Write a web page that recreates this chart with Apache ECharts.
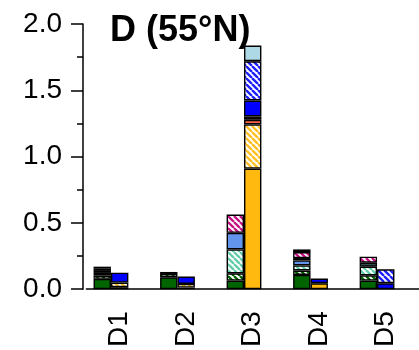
<!DOCTYPE html>
<html>
<head>
<meta charset="utf-8">
<script src="https://cdn.jsdelivr.net/npm/echarts@6/dist/echarts.min.js"></script>
<style>
  html, body { margin: 0; padding: 0; background: #fff; }
  #main { width: 419px; height: 350px; }
</style>
</head>
<body>
<div id="main"></div>
<script>
// categories
var sites = ['D1', 'D2', 'D3', 'D4', 'D5'];

// left stack, bottom to top
var lDarkGreen   = [0.078, 0.090, 0.065, 0.108, 0.065];
var lGreenHatch  = [0.025, 0.025, 0.055, 0.033, 0.040];
var lAquaHatch   = [0.020, 0,     0.180, 0.038, 0.065];
var lCornflower  = [0,     0,     0.125, 0.038, 0];
var lSlate       = [0.015, 0.015, 0,     0.018, 0.030];
var lPinkHatch   = [0.020, 0,     0.138, 0.045, 0.045];
var lRoseHatch   = [0.012, 0,     0,     0.020, 0];

// right stack, bottom to top
var rOrange      = [0.015, 0.012, 0.910, 0.045, 0];
var rOrangeHatch = [0.035, 0.028, 0.333, 0,     0];
var rTomato      = [0,     0,     0.035, 0,     0];
var rDark        = [0,     0,     0.025, 0,     0];
var rBlue        = [0.075, 0.055, 0.120, 0.035, 0.045];
var rBlueHatch   = [0,     0,     0.296, 0,     0.105];
var rLightBlue   = [0,     0,     0.118, 0,     0];

var yTicks = [0, 0.5, 1, 1.5, 2];

var FONT = '"Liberation Sans", Arial, Helvetica, sans-serif';

// diagonal stripes, colour on white
function hatch(color) {
    var s = 6;
    var c = document.createElement('canvas');
    c.width = s; c.height = s;
    var g = c.getContext('2d');
    g.fillStyle = '#fff';
    g.fillRect(0, 0, s, s);
    g.strokeStyle = color;
    g.lineWidth = 2.4;
    g.beginPath();
    for (var k = -1; k <= 1; k++) {
        g.moveTo(k * s, 0);
        g.lineTo(k * s + s, s);
    }
    g.stroke();
    return { image: c, repeat: 'repeat' };
}

function stackSeries(stack, values, color) {
    return {
        type: 'bar',
        stack: stack,
        barWidth: 17.4,
        barGap: '0%',
        data: values.map(function (v) { return v > 0 ? v : '-'; }),
        itemStyle: { color: color, borderColor: '#000', borderWidth: 1.4 }
    };
}

var series = [
    stackSeries('L', lDarkGreen, '#006400'),
    stackSeries('L', lGreenHatch, hatch('#006400')),
    stackSeries('L', lAquaHatch, hatch('#66CDAA')),
    stackSeries('L', lCornflower, '#6495ED'),
    stackSeries('L', lSlate, '#2F4F4F'),
    stackSeries('L', lPinkHatch, hatch('#C71585')),
    stackSeries('L', lRoseHatch, hatch('#E07090')),
    stackSeries('R', rOrange, '#FFB90F'),
    stackSeries('R', rOrangeHatch, hatch('#FFC125')),
    stackSeries('R', rTomato, '#FF6347'),
    stackSeries('R', rDark, '#2A0A0A'),
    stackSeries('R', rBlue, '#0000FF'),
    stackSeries('R', rBlueHatch, hatch('#2020FF')),
    stackSeries('R', rLightBlue, '#ADD8E6'),
    // empty slot so the right bar sits on the tick
    stackSeries('E', sites.map(function () { return 0; }), 'transparent')
];

var myChart = echarts.init(document.getElementById('main'));
var option = {
    animation: false,
    title: {
        text: 'D (55°N)',
        left: 105,
        top: 8,
        textStyle: { fontFamily: FONT, fontSize: 36, fontWeight: 'bold', color: '#000' }
    },
    grid: { left: 86.4, right: -20.6, top: 24, bottom: 60.7 },
    xAxis: {
        type: 'category',
        data: sites,
        axisLine: { lineStyle: { color: '#000', width: 1.5 } },
        axisTick: { alignWithLabel: true, length: 11, lineStyle: { color: '#000', width: 1.5 } },
        axisLabel: { rotate: 90, margin: 22, fontSize: 28, color: '#000', fontFamily: FONT }
    },
    yAxis: {
        type: 'value',
        min: yTicks[0],
        max: yTicks[yTicks.length - 1],
        interval: 0.5,
        offset: 3.4,
        axisLine: { show: true, lineStyle: { color: '#000', width: 1.5 } },
        axisTick: { show: true, length: 12, lineStyle: { color: '#000', width: 1.5 } },
        minorTick: { show: true, splitNumber: 2, length: 6, lineStyle: { color: '#000', width: 1.5 } },
        splitLine: { show: false },
        axisLabel: {
            margin: 21, fontSize: 28, color: '#000', fontFamily: FONT,
            formatter: function (v) { return v.toFixed(1); }
        }
    },
    series: series
};
myChart.setOption(option, true);
</script>
</body>
</html>
